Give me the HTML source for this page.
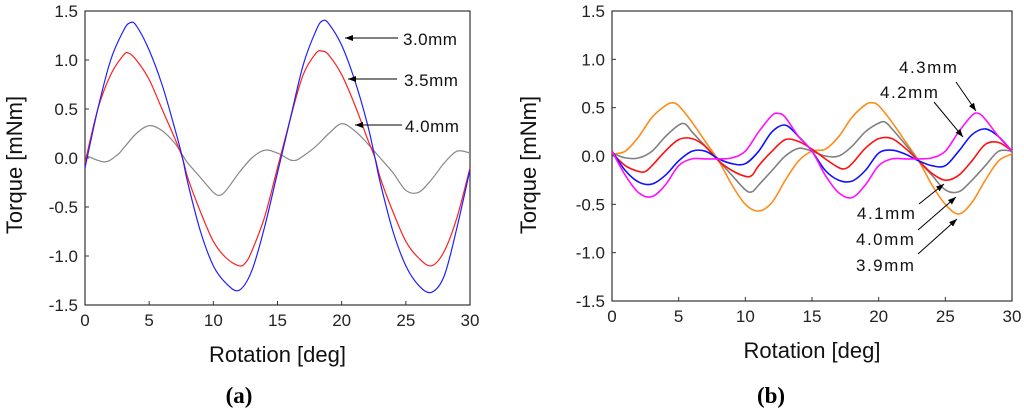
<!DOCTYPE html>
<html><head><meta charset="utf-8"><style>
body{margin:0;background:#fff;}
svg{display:block;font-family:"Liberation Sans",sans-serif;}
.tk{font-size:17px;fill:#222;}
.at{font-size:22px;fill:#111;}
.an{font-size:17px;fill:#111;letter-spacing:0.5px;}
</style></head><body>
<svg id="svg" width="1024" height="413" viewBox="0 0 1024 413" xmlns="http://www.w3.org/2000/svg">
<defs><marker id="ah" markerWidth="8" markerHeight="6" refX="8" refY="3" orient="auto"><path d="M0,0 L8,3 L0,6 Z" fill="#000"/></marker></defs>
<g id="ga"></g>
<g id="gb"></g>
<text x="239" y="403" text-anchor="middle" style="font-family:'Liberation Serif',serif;font-weight:bold;font-size:23px">(a)</text>
<text x="771" y="403" text-anchor="middle" style="font-family:'Liberation Serif',serif;font-weight:bold;font-size:23px">(b)</text>
<g stroke="#000" stroke-width="1">
<line x1="398" y1="38" x2="345" y2="38" marker-end="url(#ah)"/>
<line x1="397" y1="79" x2="348" y2="79" marker-end="url(#ah)"/>
<line x1="402" y1="125" x2="355" y2="125" marker-end="url(#ah)"/>
</g>
<text class="an" x="403" y="45">3.0mm</text>
<text class="an" x="404" y="86">3.5mm</text>
<text class="an" x="405" y="132">4.0mm</text>
<g stroke="#000" stroke-width="1">
<line x1="956" y1="82" x2="976" y2="111" marker-end="url(#ah)"/>
<line x1="934" y1="102" x2="963" y2="137" marker-end="url(#ah)"/>
<line x1="919" y1="204" x2="944" y2="184" marker-end="url(#ah)"/>
<line x1="918" y1="230" x2="956" y2="197" marker-end="url(#ah)"/>
<line x1="918" y1="254" x2="957" y2="219" marker-end="url(#ah)"/>
</g>
<text class="an" x="899" y="73" style="letter-spacing:1.5px">4.3mm</text>
<text class="an" x="880" y="98" style="letter-spacing:1.5px">4.2mm</text>
<text class="an" x="857" y="219" style="letter-spacing:1.5px">4.1mm</text>
<text class="an" x="856" y="245" style="letter-spacing:1.5px">4.0mm</text>
<text class="an" x="856" y="271" style="letter-spacing:1.5px">3.9mm</text>
</svg>
<script>
const xTicks=[0,5,10,15,20,25,30];
const yTicks=[1.5,1.0,0.5,0.0,-0.5,-1.0,-1.5];
const yTickLabels=["1.5","1.0","0.5","0.0","-0.5","-1.0","-1.5"];
// chart a
const a30x=[0,1,2,3,3.5,4,5,6,7,7.6,8,9,10,11,12,13,14,15,16,17,18,18.5,19,20,21,22,22.6,23,24,25,26,27,28,29,30];
const a30y=[-0.1,0.5,1.0,1.3,1.38,1.35,1.1,0.75,0.3,0,-0.25,-0.75,-1.1,-1.28,-1.35,-1.15,-0.7,-0.15,0.4,0.95,1.3,1.4,1.37,1.15,0.8,0.35,0,-0.25,-0.75,-1.1,-1.3,-1.37,-1.2,-0.7,-0.12];
const a35x=[0,1,2,3,3.4,4,5,6,7,7.6,8,9,10,11,12,12.5,13,14,15,16,17,18,18.5,19,20,21,22,22.6,23,24,25,26,27,28,29,30];
const a35y=[-0.05,0.5,0.85,1.05,1.07,1.0,0.8,0.5,0.2,0,-0.2,-0.55,-0.85,-1.02,-1.1,-1.07,-0.95,-0.6,-0.1,0.4,0.85,1.07,1.09,1.05,0.85,0.55,0.2,0,-0.2,-0.55,-0.85,-1.02,-1.1,-0.95,-0.6,-0.1];
const a40x=[0,1.5,2.5,3,4,5,6,7,7.6,8,9,10,10.5,11,12,13,14,15,16,16.5,17,18,19,20,21,22,23,24,25,26,27,28,29,30];
const a40y=[0.03,-0.04,0.03,0.1,0.25,0.33,0.28,0.15,0.03,-0.05,-0.2,-0.35,-0.38,-0.33,-0.15,0.0,0.08,0.05,-0.02,-0.02,0.02,0.12,0.25,0.35,0.28,0.15,0.0,-0.15,-0.33,-0.35,-0.22,-0.05,0.07,0.05];
// chart b
const b39x=[0,1,2,3,4,4.5,5,6,7,8,9,10,11,12,13,14,15,16,17,18,19,19.5,20,21,22,23,24,25,26,27,28,29,30];
const b39y=[0.02,0.05,0.2,0.4,0.52,0.55,0.52,0.35,0.15,-0.05,-0.3,-0.5,-0.57,-0.48,-0.25,-0.05,0.05,0.07,0.2,0.4,0.53,0.55,0.52,0.35,0.15,-0.05,-0.3,-0.5,-0.6,-0.48,-0.25,-0.05,0.02];
const b40x=[0,1,2,3,4,5,5.5,6,7,8,9,10,10.5,11,12,13,14,15,16,17,18,19,20,20.5,21,22,23,24,25,26,27,28,29,30];
const b40y=[0.03,-0.02,-0.02,0.05,0.2,0.32,0.33,0.25,0.1,-0.05,-0.2,-0.35,-0.37,-0.3,-0.15,0.0,0.08,0.05,0.0,0.0,0.1,0.25,0.34,0.35,0.28,0.12,-0.05,-0.2,-0.35,-0.37,-0.25,-0.1,0.05,0.05];
const b41x=[0,1,2,2.5,3,4,5,6,7,8,9,10,10.5,11,12,13,14,15,16,17,17.5,18,19,20,21,22,23,24,25,26,27,28,29,30];
const b41y=[0.03,-0.1,-0.16,-0.16,-0.1,0.05,0.17,0.18,0.1,-0.05,-0.15,-0.21,-0.2,-0.1,0.05,0.17,0.15,0.07,-0.03,-0.12,-0.13,-0.08,0.08,0.18,0.18,0.08,-0.05,-0.18,-0.25,-0.2,-0.05,0.12,0.14,0.05];
const b42x=[0,1,2,3,4,5,6,7,8,9,10,11,12,13,14,15,16,17,18,19,20,21,22,23,24,25,26,27,28,29,30];
const b42y=[0.05,-0.15,-0.27,-0.29,-0.2,-0.05,0.05,0.05,-0.03,-0.08,-0.08,0.05,0.25,0.32,0.2,0.05,-0.15,-0.25,-0.26,-0.15,0.03,0.06,0.02,-0.05,-0.1,-0.1,0.05,0.22,0.28,0.2,0.05];
const b43x=[0,1,2,3,4,5,6,7,8,9,10,11,12,12.5,13,14,15,16,17,18,19,20,21,22,23,24,25,26,27,27.5,28,29,30];
const b43y=[0.05,-0.2,-0.38,-0.42,-0.3,-0.1,-0.03,-0.03,-0.03,-0.02,0.05,0.25,0.42,0.44,0.4,0.2,0.05,-0.2,-0.38,-0.43,-0.3,-0.1,-0.03,-0.03,-0.03,-0.02,0.05,0.25,0.42,0.44,0.38,0.2,0.05];

const NS="http://www.w3.org/2000/svg";
function mk(p,t,at){const e=document.createElementNS(NS,t);for(const k in at)e.setAttribute(k,at[k]);p.appendChild(e);return e;}
function smooth(pts){let d="M"+pts[0][0]+","+pts[0][1];for(let i=0;i<pts.length-1;i++){const p0=pts[Math.max(0,i-1)],p1=pts[i],p2=pts[i+1],p3=pts[Math.min(pts.length-1,i+2)];const c1=[p1[0]+(p2[0]-p0[0])/6,p1[1]+(p2[1]-p0[1])/6],c2=[p2[0]-(p3[0]-p1[0])/6,p2[1]-(p3[1]-p1[1])/6];d+=" C"+c1[0].toFixed(1)+","+c1[1].toFixed(1)+" "+c2[0].toFixed(1)+","+c2[1].toFixed(1)+" "+p2[0].toFixed(1)+","+p2[1].toFixed(1);}return d;}
function chart(g,L,R,T,B,series,ytX,ytY){
  const sx=v=>L+(v-0)/30*(R-L), sy=v=>T+(1.5-v)/3*(B-T);
  const r=mk(g,'rect',{x:L,y:T,width:R-L,height:B-T,fill:'none',stroke:'#333','stroke-width':1.2});
  
  xTicks.forEach(v=>{const x=sx(v);mk(g,'line',{x1:x,y1:B,x2:x,y2:B-4,stroke:'#333'});
    const t=mk(g,'text',{x:x,y:B+21,'text-anchor':'middle',class:'tk'});t.textContent=v;
    });
  yTicks.forEach((v,i)=>{const y=sy(v);mk(g,'line',{x1:L,y1:y,x2:L+4,y2:y,stroke:'#333'});
    const t=mk(g,'text',{x:L-7,y:y+6,'text-anchor':'end',class:'tk'});t.textContent=yTickLabels[i];
    });
  const xt=mk(g,'text',{x:(L+R)/2,y:B+57,'text-anchor':'middle',class:'at'});xt.textContent='Rotation [deg]';
  
  const yt=mk(g,'text',{x:ytX,y:ytY,'text-anchor':'middle',class:'at',transform:'rotate(-90 '+ytX+' '+ytY+')'});yt.textContent='Torque [mNm]';
  
  series.forEach(s=>{const pts=s.x.map((v,i)=>[sx(v),sy(s.y[i])]);
    const p=mk(g,'path',{d:smooth(pts),fill:'none',stroke:s.c,'stroke-width':s.w});
    });
}
chart(document.getElementById('ga'),85,470,11,305,[
 {x:a40x,y:a40y,c:'#888',w:1.2,n:'series-4-0mm'},
 {x:a35x,y:a35y,c:'#ff2020',w:1.2,n:'series-3-5mm'},
 {x:a30x,y:a30y,c:'#2020ff',w:1.2,n:'series-3-0mm'}],22,165);
chart(document.getElementById('gb'),612,1012,11,301,[
 {x:b39x,y:b39y,c:'#ff8c1a',w:1.6,n:'series-3-9mm'},
 {x:b40x,y:b40y,c:'#808080',w:1.6,n:'series-4-0mm'},
 {x:b41x,y:b41y,c:'#ff1010',w:1.6,n:'series-4-1mm'},
 {x:b42x,y:b42y,c:'#1010ff',w:1.6,n:'series-4-2mm'},
 {x:b43x,y:b43y,c:'#ff10ff',w:1.6,n:'series-4-3mm'}],536,165);
</script>
</body></html>
